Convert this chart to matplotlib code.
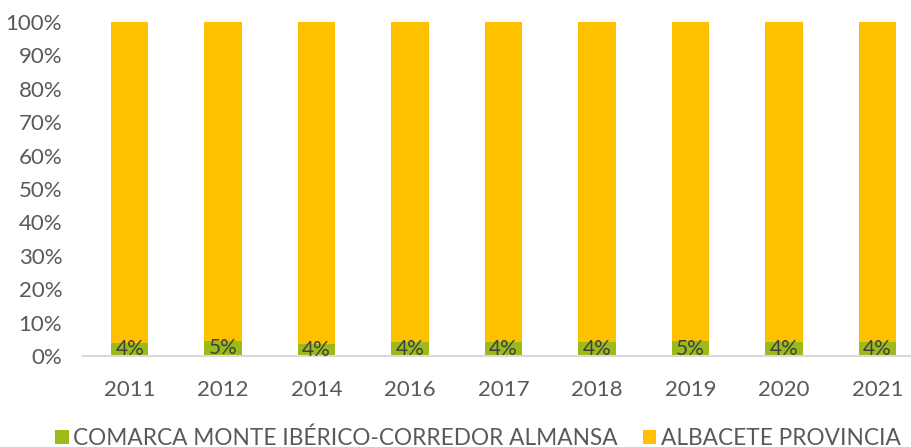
import matplotlib.pyplot as plt
import numpy as np

plt.rcParams['font.family'] = ['Lato', 'DejaVu Sans']

years = ['2011', '2012', '2014', '2016', '2017', '2018', '2019', '2020', '2021']
comarca = [4.0, 4.5, 3.7, 4.1, 4.1, 4.1, 4.4, 4.1, 4.1]
provincia = [100 - v for v in comarca]
labels = ['4%', '5%', '4%', '4%', '4%', '4%', '5%', '4%', '4%']

green = '#9BBB1A'
orange = '#FFC000'
txt = '#595959'

fig = plt.figure(figsize=(9.11, 4.47), dpi=100)
ax = fig.add_axes([83/911, 1 - 356/447, (924 - 83)/911, (356 - 22)/447])

x = np.arange(len(years))
b1 = ax.bar(x, comarca, width=0.4, color=green,
            label='COMARCA MONTE IBÉRICO-CORREDOR ALMANSA')
b2 = ax.bar(x, provincia, width=0.4, bottom=comarca, color=orange,
            label='ALBACETE PROVINCIA')

for xi, v, lab in zip(x, comarca, labels):
    ax.text(xi, v / 2, lab, ha='center', va='center', fontsize=15, color='#404040')

ax.set_xlim(-0.5, len(years) - 0.5)
ax.set_ylim(0, 100)
ax.set_yticks(np.arange(0, 101, 10))
ax.set_yticklabels([f'{v}%' for v in range(0, 101, 10)])
ax.set_xticks(x)
ax.set_xticklabels(years)
ax.tick_params(axis='both', length=0, labelsize=16, colors=txt)
ax.tick_params(axis='x', pad=17)
ax.tick_params(axis='y', pad=15)

for s in ['top', 'right', 'left']:
    ax.spines[s].set_visible(False)
ax.spines['bottom'].set_color('#D9D9D9')
ax.spines['bottom'].set_linewidth(1.5)

fig.legend(handles=[b1, b2], loc='center', bbox_to_anchor=(478/911, 1 - 438/447),
           ncol=2, frameon=False, fontsize=16.3, labelcolor=txt,
           handlelength=0.6, handleheight=0.6, handletextpad=0.2, columnspacing=1.1)

fig.savefig('out.png', dpi=100)
